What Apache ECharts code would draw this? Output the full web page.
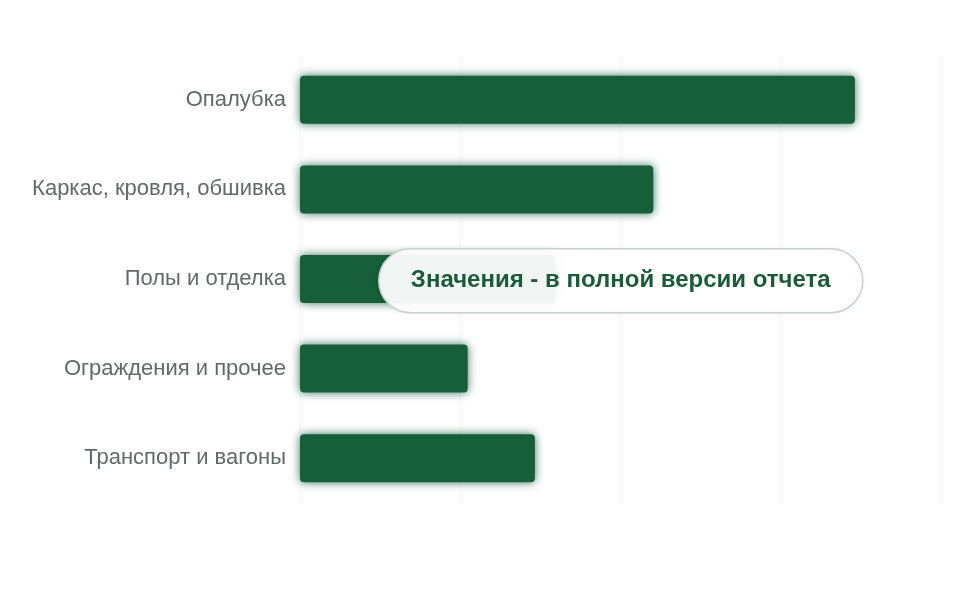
<!DOCTYPE html>
<html><head><meta charset="utf-8">
<script src="https://cdn.jsdelivr.net/npm/echarts@6/dist/echarts.min.js"></script>
<style>html,body{margin:0;padding:0;background:#fff}#c{width:960px;height:600px}</style>
</head><body><div id="c"></div>
<script>
const categories = ['Опалубка', 'Каркас, кровля, обшивка', 'Полы и отделка', 'Ограждения и прочее', 'Транспорт и вагоны'];
const values = [86.7, 55.2, 39.8, 26.2, 36.7];
const overlayText = 'Значения - в полной версии отчета';

const chart = echarts.init(document.getElementById('c'));
chart.setOption({
  animation: false,
  grid: { left: 300, right: 20, top: 55, bottom: 97 },
  xAxis: {
    type: 'value', min: 0, max: 100, interval: 25,
    axisLabel: { show: false }, axisLine: { show: false }, axisTick: { show: false },
    splitLine: { show: true, lineStyle: { color: '#f5f6f5', width: 1 } }
  },
  yAxis: {
    type: 'category', data: categories, inverse: true,
    axisLine: { show: false }, axisTick: { show: false },
    axisLabel: { color: '#5f6b66', fontSize: 22, fontFamily: 'Liberation Sans, Arial, sans-serif', margin: 14 }
  },
  series: [{
    type: 'bar', data: values, barWidth: 48,
    itemStyle: { color: '#175e3b', borderRadius: 4, shadowBlur: 10, shadowColor: 'rgba(23,94,59,0.85)' }
  }],
  graphic: [{
    type: 'group', left: 378, top: 248, z: 100,
    children: [{
      type: 'rect', z: 100, shape: { x: 0, y: 0, width: 484, height: 64, r: 32 },
      style: { fill: 'rgba(255,255,255,0.94)', stroke: '#c5d3ca', lineWidth: 1.5, shadowBlur: 6, shadowColor: 'rgba(0,0,0,0.06)' }
    }, {
      type: 'text', z: 101, x: 242, y: 32,
      style: { text: overlayText, fill: '#1a5b3a', font: 'bold 24px Liberation Sans, Arial, sans-serif', align: 'center', verticalAlign: 'middle' }
    }]
  }]
});
</script></body></html>
